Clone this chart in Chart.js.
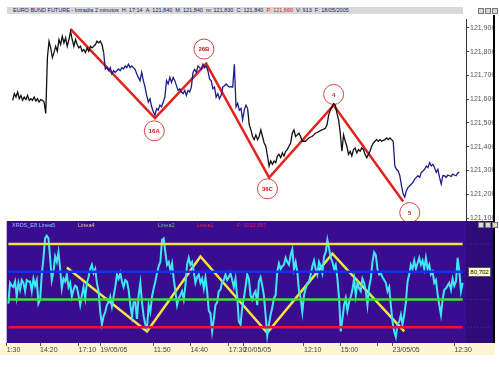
<!DOCTYPE html>
<html lang="es">
<head>
<meta charset="utf-8">
<title>Euro Bund Future</title>
<script src="https://cdn.jsdelivr.net/npm/chart.js@4.4.0/dist/chart.umd.min.js"></script>
<style>
  body { margin: 0; width: 499px; height: 367px; background: #fff; position: relative; overflow: hidden; font-family: Arial, "Liberation Sans", sans-serif; }
  canvas { position: absolute; left: 0; }
  #graficoPrecio { top: 8px; }
  #graficoOsc { top: 221px; }
  #titulo { position: absolute; left: 7px; top: 7px; width: 450px; height: 7px; padding-left: 6px; background: #d9d9d9; font-size: 5.5px; line-height: 7px; white-space: nowrap; color: #22225a; z-index: 3; }
  #titulo .rojo { color: #d01818; }
  .botones { position: absolute; z-index: 3; display: flex; gap: 1px; }
  .botones span { width: 4px; height: 4px; border: 1px solid #777; background: #d8d8d8; }
  #cabecera { position: absolute; left: 12px; top: 222px; font-size: 5.5px; white-space: nowrap; z-index: 3; }
  #cabecera span { position: absolute; top: 0; }
  #valorOsc { position: absolute; left: 468px; top: 267px; width: 21px; height: 8px; background: #ffffd0; border: 1px solid #555; font-size: 6px; line-height: 8px; text-align: center; color: #000; z-index: 3; }
</style>
</head>
<body>
<div id="titulo">EURO BUND FUTURE - Intradía 2 minutos &nbsp;H: 17:14 &nbsp;A: 121,840 &nbsp;M: 121,840 &nbsp;m: 121,830 &nbsp;C: 121,840 &nbsp;<span class="rojo">P: 121,660</span> &nbsp;V: 913 &nbsp;F: 18/05/2005</div>
<div class="botones" style="left:478px; top:8px;"><span></span><span></span><span></span></div>
<canvas id="graficoPrecio" width="499" height="224"></canvas>
<canvas id="graficoOsc" width="499" height="136"></canvas>
<div id="cabecera">
  <span style="left:0; color:#8cc8ff;">XRDS_E8 Linea5</span>
  <span style="left:66px; color:#f2c27a;">Linea4</span>
  <span style="left:146px; color:#5fd35f;">Linea2</span>
  <span style="left:185px; color:#e8203c;">Linea1</span>
  <span style="left:225px; color:#e8203c;">F: 2012,587</span>
</div>
<div class="botones" style="left:478px; top:222px;"><span></span><span></span><span></span></div>
<div id="valorOsc">80,702</div>
<script>
// precio cada 2 minutos (indice = barra)
const precios = [
  121595, 121623, 121609, 121630, 121602, 121616, 121595, 121609, 121598, 121616,
  121595, 121602, 121595, 121609, 121593, 121602, 121588, 121598, 121595, 121588,
  121540, 121775, 121844, 121816, 121775, 121796, 121823, 121802, 121851, 121830,
  121865, 121837, 121858, 121823, 121851, 121885, 121851, 121823, 121851, 121830,
  121816, 121823, 121802, 121809, 121796, 121816, 121802, 121823, 121816, 121823,
  121830, 121844, 121837, 121844, 121830, 121796, 121727, 121733, 121720, 121733,
  121706, 121720, 121713, 121720, 121727, 121720, 121733, 121727, 121740, 121733,
  121747, 121733, 121740, 121733, 121726, 121706, 121692, 121678, 121713, 121678,
  121651, 121616, 121588, 121602, 121568, 121547, 121533, 121561, 121554, 121575,
  121568, 121588, 121609, 121678, 121664, 121692, 121671, 121692, 121678, 121657,
  121637, 121644, 121630, 121623, 121637, 121616, 121637, 121630, 121651, 121713,
  121726, 121713, 121740, 121733, 121726, 121747, 121733, 121740, 121720, 121685,
  121678, 121644, 121651, 121609, 121623, 121602, 121616, 121651, 121657, 121664,
  121657, 121651, 121653, 121651, 121747, 121568, 121582, 121554, 121561, 121513,
  121554, 121575, 121561, 121492, 121471, 121443, 121430, 121450, 121430, 121443,
  121471, 121443, 121416, 121402, 121361, 121319, 121340, 121326, 121340, 121333,
  121361, 121368, 121354, 121374, 121361, 121381, 121388, 121402, 121416, 121457,
  121471, 121443, 121450, 121457, 121443, 121423, 121423, 121423, 121430, 121437,
  121441, 121443, 121450, 121457, 121460, 121464, 121468, 121471, 121474, 121478,
  121492, 121533, 121554, 121568, 121582, 121575, 121540, 121513, 121457, 121381,
  121450, 121423, 121402, 121368, 121381, 121361, 121388, 121395, 121374, 121388,
  121381, 121395, 121388, 121368, 121354, 121368, 121381, 121402, 121416, 121423,
  121430, 121423, 121430, 121423, 121427, 121430, 121437, 121430, 121437, 121430,
  121423, 121319, 121305, 121298, 121278, 121236, 121202, 121188, 121216, 121229,
  121236, 121243, 121250, 121264, 121271, 121278, 121271, 121292, 121298, 121305,
  121319, 121312, 121333, 121319, 121326, 121312, 121292, 121305, 121271, 121243,
  121278, 121278, 121271, 121281, 121278, 121275, 121285, 121281, 121278, 121289,
  121292
];
const cortesSesion = [56, 143, 231];

// zig-zag de ondas sobre el precio
const ondaX = [35, 86, 117, 155, 194, 236];
const ondaY = [121895, 121520, 121750, 121270, 121575, 121170];

// circulos con las etiquetas
const circuloX = [85.6, 115.6, 154, 194, 240];
const circuloY = [121467, 121811, 121223, 121620, 121123];
const circuloTxt = ["16A", "26B", "36C", "4", "5"];

const ticksPrecio = [121100, 121200, 121300, 121400, 121500, 121600, 121700, 121800, 121900];

// oscilador XRDS_E8
const oscilador = [
  57, 72, 70, 69, 73, 62, 72, 67, 74, 72, 66, 74, 73, 73, 66, 75, 70, 74, 57, 60,
  78, 90, 104, 106, 104, 90, 74, 80, 91, 87, 94, 82, 68, 75, 73, 78, 69, 72, 62, 67,
  70, 69, 63, 56, 63, 69, 61, 72, 76, 82, 85, 79, 82, 72, 66, 51, 42, 48, 51, 56,
  58, 62, 55, 62, 69, 78, 75, 79, 73, 69, 74, 73, 67, 56, 48, 58, 58, 46, 63, 72,
  58, 48, 42, 39, 56, 51, 62, 68, 73, 79, 84, 87, 103, 104, 94, 85, 87, 81, 86, 75,
  66, 56, 61, 63, 66, 60, 70, 85, 90, 85, 87, 80, 72, 76, 78, 72, 75, 68, 76, 66,
  52, 50, 37, 46, 56, 58, 66, 67, 73, 74, 78, 74, 76, 79, 74, 69, 75, 62, 44, 42,
  54, 61, 69, 78, 75, 63, 60, 64, 66, 56, 73, 76, 70, 63, 49, 34, 42, 49, 54, 61,
  63, 80, 86, 82, 84, 85, 90, 87, 85, 92, 96, 82, 87, 80, 66, 61, 51, 63, 68, 72,
  73, 78, 84, 88, 82, 78, 87, 84, 79, 91, 94, 103, 97, 90, 87, 82, 85, 75, 61, 37,
  46, 56, 61, 52, 58, 62, 67, 75, 63, 72, 68, 66, 75, 72, 66, 56, 69, 75, 87, 94,
  92, 82, 78, 79, 76, 74, 72, 66, 69, 56, 44, 37, 33, 42, 44, 49, 42, 49, 58, 73,
  78, 85, 82, 88, 82, 86, 90, 85, 88, 82, 90, 82, 85, 78, 80, 72, 74, 64, 56, 49,
  60, 67, 68, 70, 72, 67, 75, 70, 73, 90, 80, 66, 72
];
const nivelesOsc = [100, 80, 60, 40];
const coloresNivel = ["#f4e23a", "#1030ee", "#3ee03e", "#e8103c"];
const zigzagX = [35, 83, 115, 155, 194, 237];
const zigzagY = [83, 37, 91, 36, 93, 37];

// eje de tiempo
const ticksTiempo = [-1, 19, 42, 55, 87, 109, 132, 141, 177, 199, 221, 230, 267];
const etiquetasTiempo = ["1:30", "14:20", "17:10", "19/05/05", "11:50", "14:40", "17:30", "20/05/05", "12:10", "15:00", "", "23/05/05", "12:30"];

const xMin = -1;
const xMax = 274;

function colorSesion(i) {
  let n = 0;
  cortesSesion.forEach((c) => {
    if (i >= c) n++;
  });
  return n % 2 === 0 ? "#111111" : "#1c1c8c";
}

const etiquetasCirculos = {
  id: "etiquetasCirculos",
  afterDatasetsDraw(chart) {
    const meta = chart.getDatasetMeta(2);
    const ctx = chart.ctx;
    ctx.save();
    ctx.font = "bold 6px Arial";
    ctx.fillStyle = "#c81818";
    ctx.textAlign = "center";
    ctx.textBaseline = "middle";
    meta.data.forEach((p, i) => {
      ctx.fillText(circuloTxt[i], p.x, p.y + 0.5);
    });
    ctx.restore();
  },
};

const bordePrecio = {
  id: "bordePrecio",
  afterDraw(chart) {
    const { ctx, chartArea: a } = chart;
    ctx.save();
    ctx.fillStyle = "#000";
    ctx.fillRect(a.right + 27, a.top - 4, 2, a.bottom - a.top + 6);
    ctx.restore();
  },
};

const fondoOsc = {
  id: "fondoOsc",
  beforeDraw(chart) {
    const { ctx, chartArea: a, height } = chart;
    ctx.save();
    ctx.fillStyle = "#fdf6d4";
    ctx.fillRect(0, a.bottom, a.right + 29, height - a.bottom - 2);
    ctx.fillStyle = "#3a0d90";
    ctx.fillRect(a.left, a.top, a.right - a.left, a.bottom - a.top);
    ctx.fillStyle = "#2f0b7a";
    ctx.fillRect(a.right, a.top, 27, a.bottom - a.top);
    ctx.strokeStyle = "#4a2aa8";
    ctx.setLineDash([1, 2]);
    ctx.lineWidth = 1;
    const y = chart.scales.y;
    nivelesOsc.forEach((v) => {
      ctx.beginPath();
      ctx.moveTo(a.right + 2, y.getPixelForValue(v));
      ctx.lineTo(a.right + 25, y.getPixelForValue(v));
      ctx.stroke();
    });
    ctx.setLineDash([]);
    ctx.fillStyle = "#000";
    ctx.fillRect(a.right + 27, a.top, 2, a.bottom - a.top);
    ctx.restore();
  },
};

new Chart(document.querySelector("#graficoPrecio"), {
  type: "line",
  data: {
    datasets: [
      {
        data: precios.map((p, i) => ({ x: i, y: p })),
        borderWidth: 1.3,
        borderColor: "#111111",
        segment: { borderColor: (ctx) => colorSesion(ctx.p1DataIndex) },
        pointRadius: 0,
        tension: 0,
      },
      {
        data: ondaX.map((x, i) => ({ x, y: ondaY[i] })),
        borderColor: "#e3231e",
        borderWidth: 2.5,
        pointRadius: 0,
        tension: 0,
      },
      {
        data: circuloX.map((x, i) => ({ x, y: circuloY[i] })),
        showLine: false,
        pointRadius: 10,
        pointBorderWidth: 1,
        pointBorderColor: "#d04848",
        pointBackgroundColor: "rgba(255,255,255,0.9)",
      },
    ],
  },
  options: {
    responsive: false,
    animation: false,
    layout: { padding: { top: 10, bottom: 10, left: 6.7, right: 6 } },
    plugins: { legend: { display: false }, tooltip: { enabled: false } },
    scales: {
      x: { type: "linear", min: xMin, max: xMax, display: false },
      y: {
        position: "right",
        min: 121087.5,
        max: 121937.5,
        afterBuildTicks: (axis) => {
          axis.ticks = ticksPrecio.map((v) => ({ value: v }));
        },
        afterFit: (axis) => {
          axis.width = 27;
        },
        grid: { drawOnChartArea: false, tickLength: 3, color: "#444" },
        border: { display: true, color: "#333", width: 1 },
        ticks: {
          color: "#555",
          padding: 1,
          font: { size: 7, family: "Arial" },
          callback: (v) => v.toLocaleString("en-US"),
        },
      },
    },
  },
  plugins: [etiquetasCirculos, bordePrecio],
});

const lineasNivel = nivelesOsc.map((v, i) => ({
  data: [{ x: 0, y: v }, { x: oscilador.length - 1, y: v }],
  borderColor: coloresNivel[i],
  borderWidth: 2.5,
  pointRadius: 0,
}));

new Chart(document.querySelector("#graficoOsc"), {
  type: "line",
  data: {
    datasets: [
      ...lineasNivel,
      {
        data: oscilador.map((v, i) => ({ x: i, y: v })),
        borderColor: "#3fe6f4",
        borderWidth: 2,
        pointRadius: 0,
        tension: 0,
      },
      {
        data: zigzagX.map((x, i) => ({ x, y: zigzagY[i] })),
        borderColor: "#f6e43c",
        borderWidth: 2.5,
        pointRadius: 0,
        tension: 0,
      },
    ],
  },
  options: {
    responsive: false,
    animation: false,
    layout: { padding: { top: 0, bottom: 0, left: 6.7, right: 6 } },
    plugins: { legend: { display: false }, tooltip: { enabled: false } },
    scales: {
      x: {
        type: "linear",
        min: xMin,
        max: xMax,
        afterBuildTicks: (axis) => {
          axis.ticks = ticksTiempo.map((v) => ({ value: v }));
        },
        afterFit: (axis) => {
          axis.height = 14;
        },
        grid: { drawOnChartArea: false, tickLength: 3, color: "#555" },
        border: { display: false },
        ticks: {
          autoSkip: false,
          maxRotation: 0,
          minRotation: 0,
          align: "start",
          padding: 0,
          color: "#444",
          font: { size: 7, family: "Arial" },
          callback: (v, i) => etiquetasTiempo[i],
        },
      },
      y: {
        position: "right",
        min: 28.7,
        max: 116.5,
        afterFit: (axis) => {
          axis.width = 27;
        },
        grid: { display: false },
        border: { display: false },
        ticks: { display: false },
      },
    },
  },
  plugins: [fondoOsc],
});
</script>
</body>
</html>
